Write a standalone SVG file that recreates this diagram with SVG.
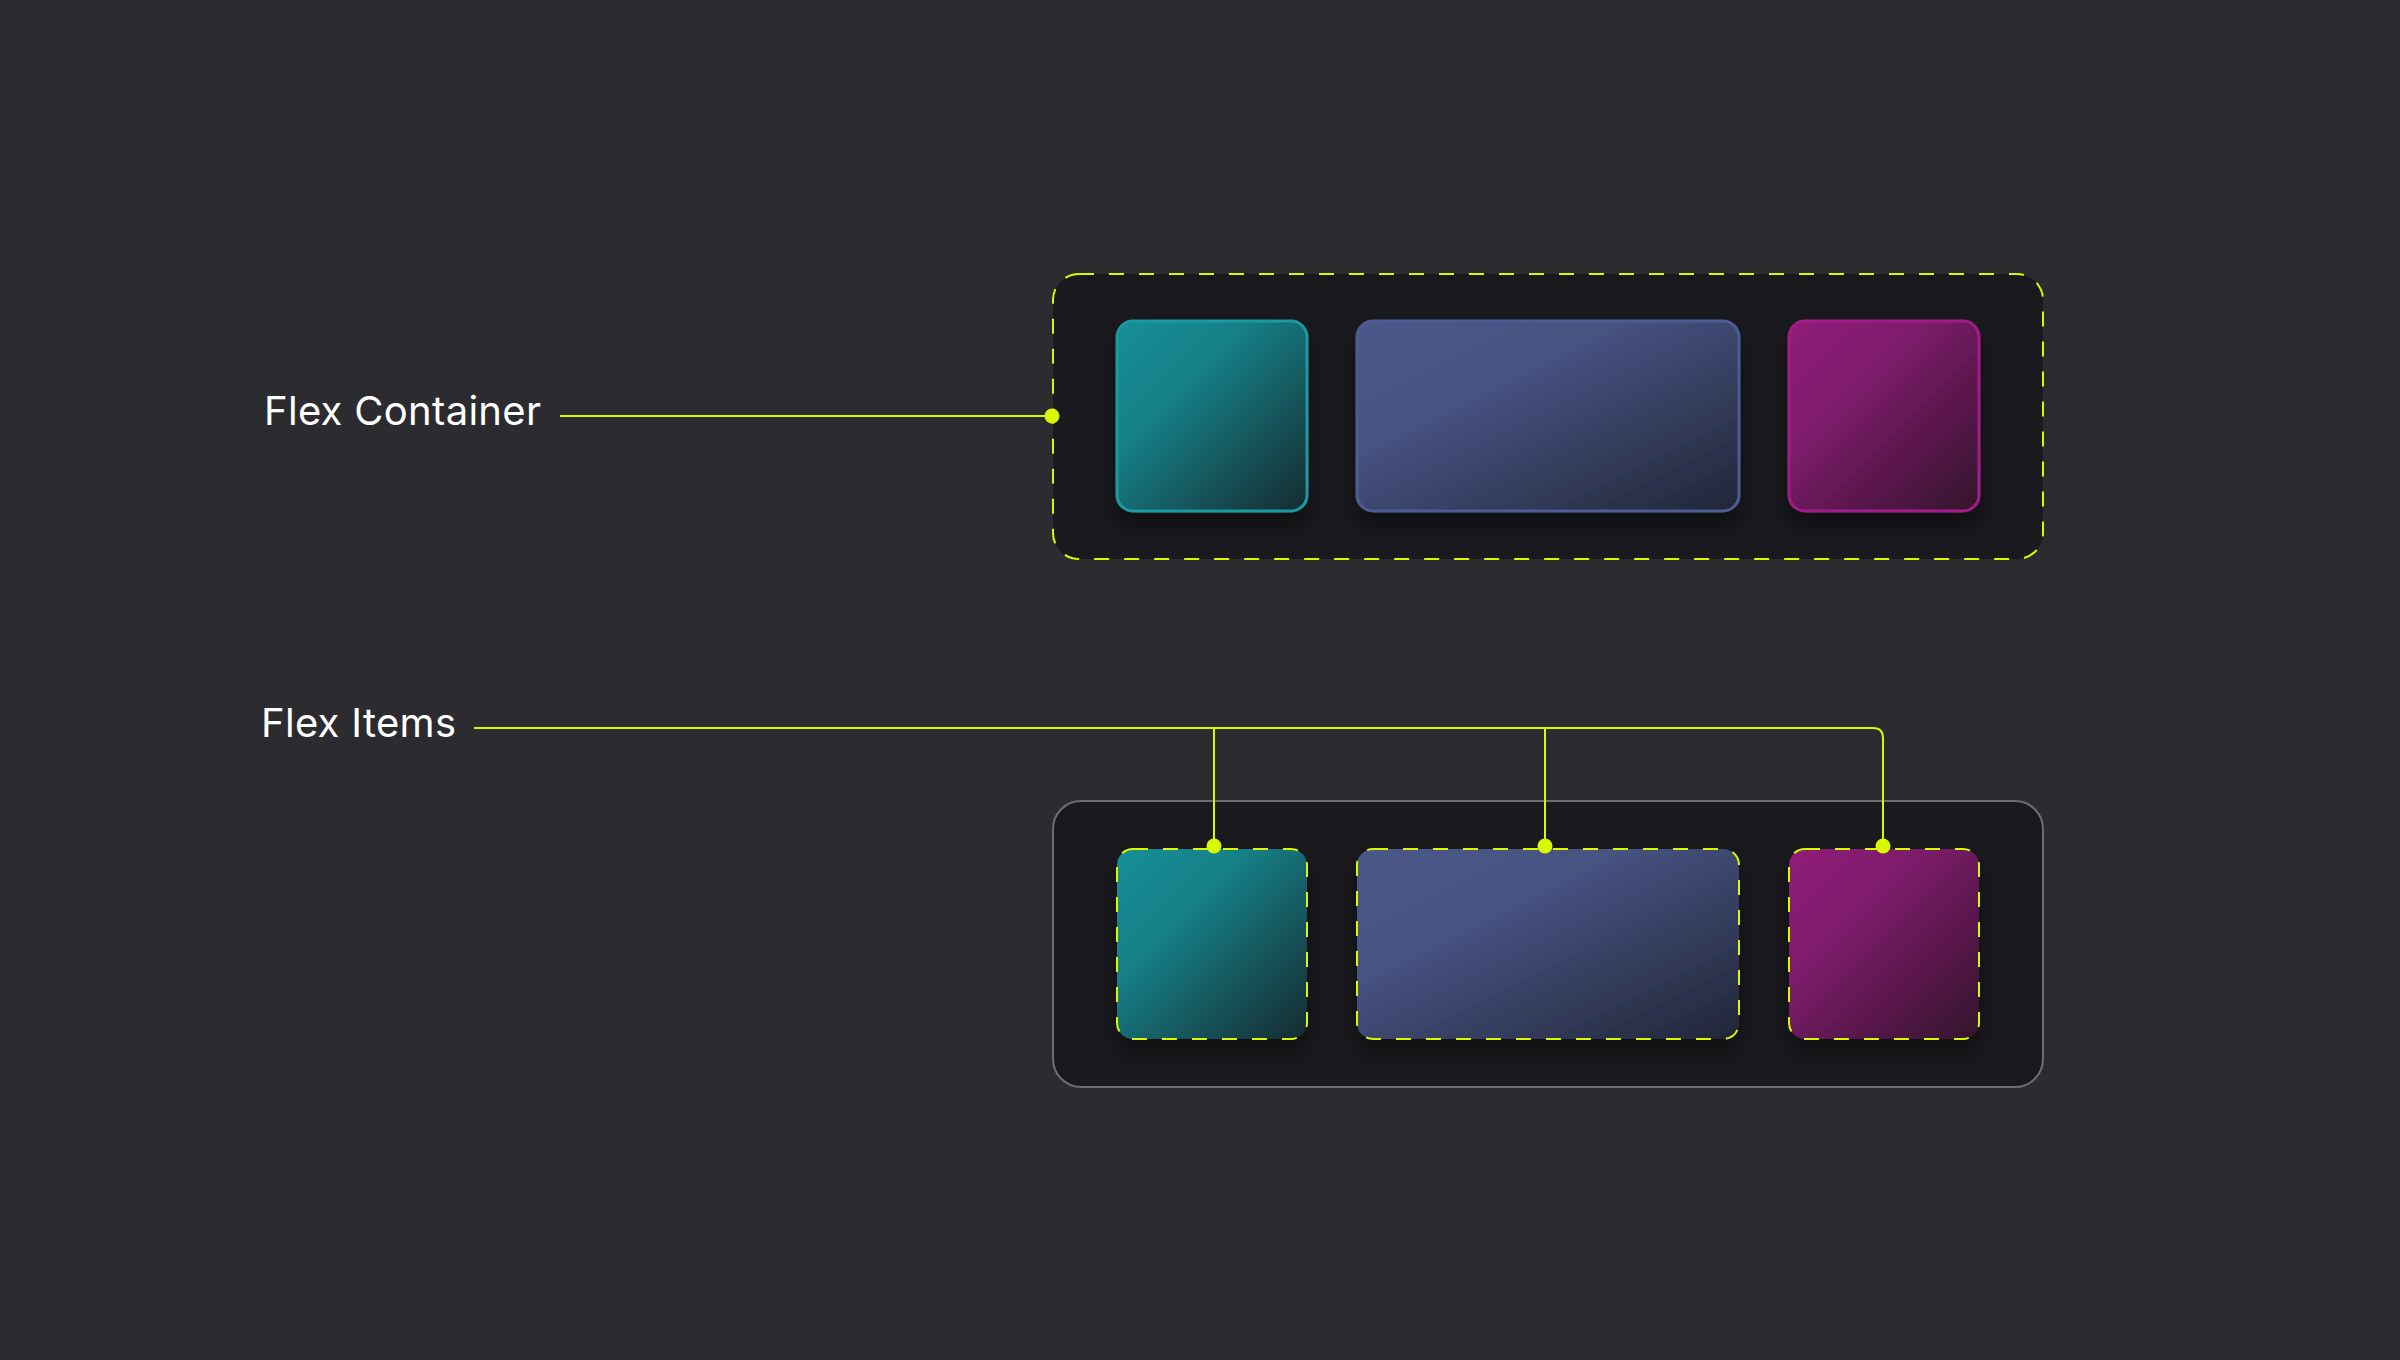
<svg xmlns="http://www.w3.org/2000/svg" width="2400" height="1360" viewBox="0 0 2400 1360">
<defs>
<linearGradient id="gTeal" x1="0" y1="0" x2="1" y2="1">
<stop offset="0" stop-color="#148f97"/><stop offset="0.35" stop-color="#137f86"/><stop offset="1" stop-color="#182a30"/>
</linearGradient>
<linearGradient id="gBlue" x1="0" y1="0" x2="1" y2="1">
<stop offset="0" stop-color="#4a5889"/><stop offset="0.35" stop-color="#465280"/><stop offset="1" stop-color="#212637"/>
</linearGradient>
<linearGradient id="gMag" x1="0" y1="0" x2="1" y2="1">
<stop offset="0" stop-color="#901a7a"/><stop offset="0.35" stop-color="#7d1a6a"/><stop offset="1" stop-color="#33182b"/>
</linearGradient>
<filter id="sh" x="-30%" y="-30%" width="160%" height="170%">
<feDropShadow dx="0" dy="14" stdDeviation="12" flood-color="#000" flood-opacity="0.45"/>
</filter>
<style>
.bg{fill:#2c2b30}
.cont{fill:#1a1a1e}
.dash{fill:none;stroke:#d8f900;stroke-width:2;stroke-dasharray:15 15}
.gray{fill:none;stroke:#6d6d72;stroke-width:2}
.lbl{font-family:Inter,"Liberation Sans",sans-serif;font-size:40px;letter-spacing:0.3px;fill:#ffffff}
.conn{fill:none;stroke:#d8f900;stroke-width:2}
.dot{fill:#d8f900}
</style>
</defs>
<rect class="bg" x="0" y="0" width="2400" height="1360"/>

<g id="flex-container">
<rect class="cont" x="1053" y="274" width="990" height="285" rx="26"/>
<rect class="dash" x="1053" y="274" width="990" height="285" rx="26"/>
<g id="item-a1" filter="url(#sh)">
<rect x="1117" y="321" width="190" height="190" rx="16" fill="url(#gTeal)" stroke="#1a9aa2" stroke-width="3"/>
</g>
<g id="item-b1" filter="url(#sh)">
<rect x="1357" y="321" width="382" height="190" rx="16" fill="url(#gBlue)" stroke="#4d5c95" stroke-width="3"/>
</g>
<g id="item-c1" filter="url(#sh)">
<rect x="1789" y="321" width="190" height="190" rx="16" fill="url(#gMag)" stroke="#a11f8a" stroke-width="3"/>
</g>
</g>

<g id="flex-items">
<rect class="cont" x="1053" y="801" width="990" height="286" rx="28"/>
<rect class="gray" x="1053" y="801" width="990" height="286" rx="28"/>
<g id="item-a2" filter="url(#sh)">
<rect x="1117" y="849" width="190" height="190" rx="16" fill="url(#gTeal)"/>
</g>
<rect class="dash" x="1117" y="849" width="190" height="190" rx="16"/>
<g id="item-b2" filter="url(#sh)">
<rect x="1357" y="849" width="382" height="190" rx="16" fill="url(#gBlue)"/>
</g>
<rect class="dash" x="1357" y="849" width="382" height="190" rx="16"/>
<g id="item-c2" filter="url(#sh)">
<rect x="1789" y="849" width="190" height="190" rx="16" fill="url(#gMag)"/>
</g>
<rect class="dash" x="1789" y="849" width="190" height="190" rx="16"/>
</g>

<g id="label-container">
<text class="lbl" x="264" y="425">Flex Container</text>
</g>
<g id="label-items">
<text class="lbl" x="261" y="737">Flex Items</text>
</g>

<g id="connectors">
<path class="conn" d="M560 416 H1052"/>
<circle class="dot" cx="1052" cy="416" r="7.5"/>
<path class="conn" d="M474 728 H1873 Q1883 728 1883 738 V846"/>
<path class="conn" d="M1214 728 V846"/>
<path class="conn" d="M1545 728 V846"/>
<circle class="dot" cx="1214" cy="846" r="7.5"/>
<circle class="dot" cx="1545" cy="846" r="7.5"/>
<circle class="dot" cx="1883" cy="846" r="7.5"/>
</g>
</svg>
